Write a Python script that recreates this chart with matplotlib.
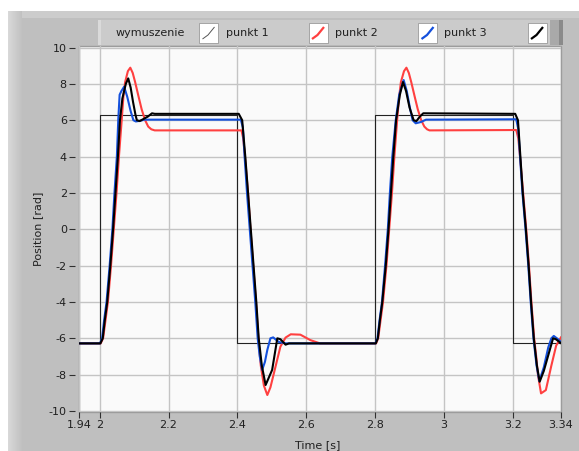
import numpy as np
import matplotlib
matplotlib.use("Agg")
import matplotlib.pyplot as plt
from matplotlib.patches import Rectangle

# wymuszenie (square excitation)
t_exc = [1.94, 2.0, 2.0, 2.4, 2.4, 2.8, 2.8, 3.2, 3.2, 3.34]
y_exc = [-6.28, -6.28, 6.28, 6.28, -6.28, -6.28, 6.28, 6.28, -6.28, -6.28]

# punkt 1 (red)
t_p1 = [1.94, 2.003, 2.010, 2.017, 2.024, 2.033, 2.041, 2.049, 2.056, 2.064, 2.069, 2.074, 2.082, 2.089,
        2.096, 2.103, 2.113, 2.122, 2.132, 2.141, 2.150, 2.160,
        2.412, 2.417, 2.422, 2.431, 2.438, 2.446, 2.454, 2.461, 2.468, 2.477, 2.487, 2.496, 2.506,
        2.525, 2.540, 2.555, 2.583, 2.612, 2.640,
        2.803, 2.809, 2.816, 2.823, 2.833, 2.841, 2.849, 2.856, 2.864, 2.870, 2.875, 2.884, 2.891,
        2.898, 2.905, 2.915, 2.924, 2.934, 2.943, 2.951, 2.958,
        3.210, 3.216, 3.221, 3.230, 3.239, 3.247, 3.254, 3.262, 3.268, 3.273, 3.282, 3.296,
        3.312, 3.326, 3.340]
y_p1 = [-6.28, -6.28, -6.0, -5.0, -4.0, -2.0, 0.0, 2.0, 4.0, 6.0, 7.3, 8.1, 8.7, 8.89,
        8.6, 8.1, 7.3, 6.6, 6.0, 5.65, 5.5, 5.44,
        5.44, 5.0, 4.0, 2.0, 0.0, -2.0, -4.0, -6.0, -7.5, -8.6, -9.12, -8.7, -7.93,
        -6.46, -5.96, -5.78, -5.8, -6.1, -6.28,
        -6.28, -6.0, -5.0, -4.0, -2.0, 0.0, 2.0, 4.0, 6.0, 7.3, 8.1, 8.7, 8.89,
        8.6, 8.1, 7.3, 6.6, 6.0, 5.65, 5.5, 5.44,
        5.46, 5.0, 4.0, 2.0, 0.0, -2.0, -4.0, -6.0, -7.0, -8.0, -9.03, -8.85,
        -7.5, -6.4, -5.95]

# punkt 2 (blue)
t_p2 = [1.94, 2.001, 2.007, 2.013, 2.020, 2.029, 2.037, 2.043, 2.050, 2.054, 2.058, 2.063, 2.071,
        2.080, 2.090, 2.098, 2.105, 2.118, 2.130,
        2.410, 2.416, 2.421, 2.428, 2.436, 2.444, 2.452, 2.459, 2.465, 2.472, 2.480, 2.487, 2.496,
        2.504, 2.520, 2.540,
        2.801, 2.807, 2.813, 2.820, 2.829, 2.837, 2.843, 2.850, 2.860, 2.870, 2.883,
        2.892, 2.902, 2.909, 2.918, 2.933, 2.948,
        3.210, 3.216, 3.221, 3.228, 3.237, 3.245, 3.252, 3.260, 3.269, 3.277, 3.290, 3.303,
        3.312, 3.319, 3.328, 3.340]
y_p2 = [-6.28, -6.28, -6.0, -5.0, -4.0, -2.0, 0.0, 2.0, 4.0, 6.0, 7.4, 7.6, 7.84,
        7.3, 6.5, 6.0, 5.93, 5.97, 6.03,
        6.03, 5.6, 4.0, 2.0, 0.0, -2.0, -4.0, -6.0, -7.0, -7.74, -7.3, -6.64, -6.0,
        -5.95, -6.2, -6.28,
        -6.28, -6.0, -5.0, -4.0, -2.0, 0.0, 2.0, 4.0, 6.0, 7.4, 8.21,
        7.6, 6.6, 6.0, 5.83, 5.9, 6.03,
        6.05, 5.5, 4.0, 2.0, 0.0, -2.0, -4.0, -6.0, -7.5, -8.35, -7.6, -6.5,
        -6.0, -5.87, -6.0, -6.2]

# punkt 3 (black)
t_p3 = [1.94, 2.002, 2.009, 2.015, 2.022, 2.031, 2.039, 2.046, 2.053, 2.059, 2.066, 2.076, 2.083,
        2.090, 2.097, 2.104, 2.108, 2.116, 2.140, 2.152, 2.160,
        2.404, 2.414, 2.423, 2.431, 2.439, 2.447, 2.455, 2.462, 2.471, 2.482, 2.501, 2.516,
        2.525, 2.540, 2.550,
        2.802, 2.808, 2.814, 2.821, 2.831, 2.839, 2.846, 2.853, 2.861, 2.872, 2.881,
        2.890, 2.900, 2.912, 2.920, 2.930, 2.940,
        3.207, 3.215, 3.222, 3.229, 3.238, 3.246, 3.253, 3.261, 3.270, 3.278, 3.290, 3.305,
        3.317, 3.325, 3.340]
y_p3 = [-6.28, -6.28, -6.0, -5.0, -4.0, -2.0, 0.0, 2.0, 4.0, 6.0, 7.2, 8.0, 8.3,
        7.8, 7.0, 6.3, 6.0, 5.95, 6.2, 6.38, 6.35,
        6.35, 6.0, 4.0, 2.0, 0.0, -2.0, -4.0, -6.0, -7.5, -8.57, -7.74, -6.0,
        -6.05, -6.35, -6.28,
        -6.28, -6.0, -5.0, -4.0, -2.0, 0.0, 2.0, 4.0, 6.0, 7.4, 8.1,
        7.6, 6.7, 6.0, 5.95, 6.2, 6.38,
        6.35, 6.0, 4.0, 2.0, 0.0, -2.0, -4.0, -6.0, -7.5, -8.39, -7.8, -6.8,
        -6.0, -6.05, -6.27]

series_names = ["wymuszenie", "punkt 1", "punkt 2", "punkt 3"]
x_ticks = [1.94, 2.0, 2.2, 2.4, 2.6, 2.8, 3.0, 3.2, 3.34]
x_ticklabels = ["1.94", "2", "2.2", "2.4", "2.6", "2.8", "3", "3.2", "3.34"]
y_ticks = [-10, -8, -6, -4, -2, 0, 2, 4, 6, 8, 10]

W, H = 579, 451
plt.rcParams["font.family"] = ["DejaVu Sans"]
plt.rcParams["font.size"] = 8

fig = plt.figure(figsize=(W / 100, H / 100), dpi=100)
fig.patch.set_facecolor("white")

# LabVIEW-like gray panel with a light bevel on top/left
bg = np.full((H, W, 3), 0.75)
bg[:11, :] = 1.0
bg[:, :8] = 1.0
bg[11:18, 8:] = 0.80
for k, v in enumerate(np.linspace(0.85, 0.76, 14)):
    bg[11:, 8 + k] = v
fig.figimage(bg, xo=0, yo=0, origin="upper", zorder=-5)

# plot area
ax = fig.add_axes([79 / W, 1 - 412 / H, (561 - 79) / W, (412 - 46) / H])
ax.set_facecolor("#fafafa")
for s in ax.spines.values():
    s.set_visible(False)
ax.patch.set_edgecolor("#9c9c9c")
ax.patch.set_linewidth(1.0)

ax.plot(t_exc, y_exc, color="#222222", lw=0.8, label=series_names[0])
ax.plot(t_p1, y_p1, color="#ff4040", lw=1.5, label=series_names[1])
ax.plot(t_p2, y_p2, color="#1450dc", lw=1.5, label=series_names[2])
ax.plot(t_p3, y_p3, color="#000000", lw=1.5, label=series_names[3])

ax.set_xlim(1.94, 3.34)
ax.set_ylim(-10.055, 10.083)
ax.set_xticks(x_ticks)
ax.set_xticklabels(x_ticklabels)
ax.set_yticks(y_ticks)
ax.set_yticklabels([str(v) for v in y_ticks])
ax.grid(True, color="#c4c4c4", lw=1.0)
ax.set_axisbelow(True)
ax.spines["left"].set_position(("outward", 3))
ax.tick_params(axis="x", direction="out", length=4, width=0.8, color="#303030",
               pad=1.5, labelcolor="#202020", labelsize=8)
ax.tick_params(axis="y", direction="out", length=4.3, width=0.8, color="#303030",
               pad=1.5, labelcolor="#202020", labelsize=8)

ax.set_xlabel("Time [s]", color="#202020", fontsize=8)
ax.xaxis.set_label_coords(0.496, -0.090)
ax.xaxis.label.set_va("center")
ax.set_ylabel("Position [rad]", color="#202020", fontsize=8)
ax.yaxis.set_label_coords(-0.085, 0.5)
ax.yaxis.label.set_va("center")

# LabVIEW style legend bar above the plot
lax = fig.add_axes([98 / W, 1 - 45 / H, 465 / W, 25 / H])
lax.set_xlim(0, 465)
lax.set_ylim(0, 25)
lax.set_xticks([])
lax.set_yticks([])
for s in lax.spines.values():
    s.set_visible(False)
lax.set_facecolor("#cbcbcb")
lax.add_patch(Rectangle((452, 0), 13, 25, facecolor="#a9a9a9", edgecolor="none"))
lax.add_patch(Rectangle((461, 0), 4, 25, facecolor="#8a8a8a", edgecolor="none"))
lax.add_patch(Rectangle((0, 0), 3, 25, facecolor="#dadada", edgecolor="none"))

col_w = 109.5
for i, line in enumerate(ax.get_lines()):
    x0 = i * col_w
    lax.text(x0 + 18, 12.5, line.get_label(), va="center", ha="left",
             fontsize=8, color="#202020")
    lax.add_patch(Rectangle((x0 + 101, 2), 19, 20, facecolor="white",
                            edgecolor="#9a9a9a", lw=0.6))
    col = "#555555" if i == 0 else line.get_color()
    lax.plot([x0 + 104.5, x0 + 110, x0 + 116.5], [6, 10, 18], color=col,
             lw=0.7 if i == 0 else 1.6, solid_capstyle="butt")

fig.savefig("out.png", dpi=100)
